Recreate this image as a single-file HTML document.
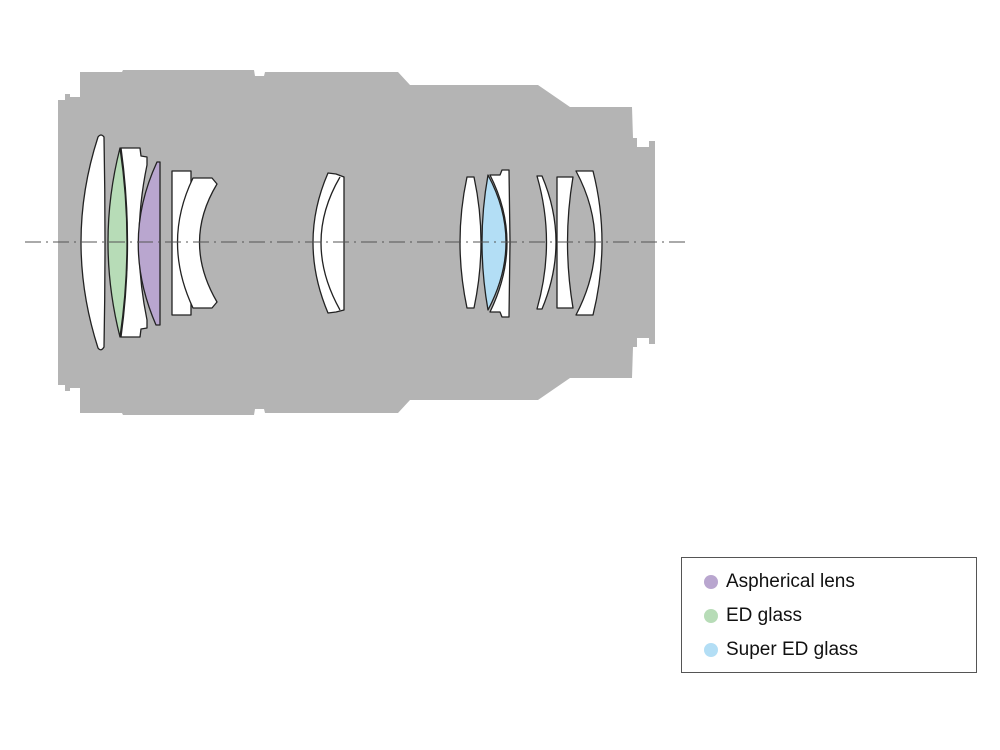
<!DOCTYPE html>
<html><head><meta charset="utf-8"><style>
html,body{margin:0;padding:0;background:#fff;width:1000px;height:750px;overflow:hidden}
svg{position:absolute;left:0;top:0}
.box{position:absolute;left:681px;top:557px;width:296px;height:116px;border:1px solid #555;box-sizing:border-box;background:#fff}
.it{position:absolute;left:22px;font:19px "Liberation Sans",sans-serif;color:#111;white-space:nowrap}
.it i{position:absolute;left:0;top:4px;width:14px;height:14px;border-radius:50%}
.it span{position:absolute;left:22px;top:0}
</style></head><body>
<svg width="1000" height="750" viewBox="0 0 1000 750">
<polygon fill="#b4b4b4" points="58,100 65,100 65,94 70,94 70,97 80,97 80,72 122,72 123,70 254,70 255,76 264,76 265,72 398,72 410,85 538,85 570,107 632,107 633,138 637,138 637,147 649,147 649,141 655,141 655,344 649,344 649,338 637,338 637,347 633,347 632,378 570,378 538,400 410,400 398,413 265,413 264,409 255,409 254,415 123,415 122,413 80,413 80,388 70,388 70,391 65,391 65,385 58,385"/>
<g stroke="#222" stroke-width="1.3" stroke-linejoin="round">
<path fill="#fff" d="M98,137 Q101,133 104,137 Q106,242 104,347 Q101,352 98,348 Q64,242 98,137 Z"/>
<path fill="#fff" d="M121,148 L140,148 L141,156 L147,157 L147,165 Q131,242 147,320 L147,328 L141,329 L140,337 L121,337 Q134,242 121,148 Z"/>
<path fill="#b7dcb7" d="M120,148 Q96,242 120,337 Q134,242 120,148 Z"/>
<path fill="#b9a6cf" d="M157,162 L160,162 L160,325 L156,325 Q120,242 157,162 Z"/>
<path fill="#fff" d="M172,171 L191,171 L191,315 L172,315 Z"/>
<path fill="#fff" d="M193,178 L212,178 L217,184 Q182,242 217,302 L212,308 L193,308 Q162,242 193,178 Z"/>
<path fill="#fff" d="M328,173 L336,174 L344,177 L344,310 L336,312 L328,313 Q298,242 328,173 Z"/>
<path fill="none" d="M340,177 Q302,242 340,310"/>
<path fill="#fff" d="M467,177 Q453,242 467,308 L474,308 Q488,242 474,177 Z"/>
<path fill="#fff" d="M490,175 L500,175 L502,170 L509,170 L510,242 L509,317 L502,317 L500,312 L490,312 Q524,242 490,175 Z"/>
<path fill="#b3def5" d="M488,175 Q476,242 488,310 Q524,242 488,175 Z"/>
<path fill="#fff" d="M537,176 L542,176 Q570,242 542,309 L537,309 Q556,242 537,176 Z"/>
<path fill="#fff" d="M557,177 L573,177 Q562,242 573,308 L557,308 Z"/>
<path fill="#fff" d="M576,171 L593,171 Q611,242 593,315 L576,315 Q614,242 576,171 Z"/>
</g>
<line x1="25" y1="242" x2="690" y2="242" stroke="#555" stroke-width="1" stroke-dasharray="16,5,2,5"/>
</svg>
<div class="box">
<div class="it" style="top:13px"><i style="background:#b9a6cf"></i><span>Aspherical lens</span></div>
<div class="it" style="top:47px"><i style="background:#b7dcb7"></i><span>ED glass</span></div>
<div class="it" style="top:81px"><i style="background:#b3def5"></i><span>Super ED glass</span></div>
</div>
</body></html>
